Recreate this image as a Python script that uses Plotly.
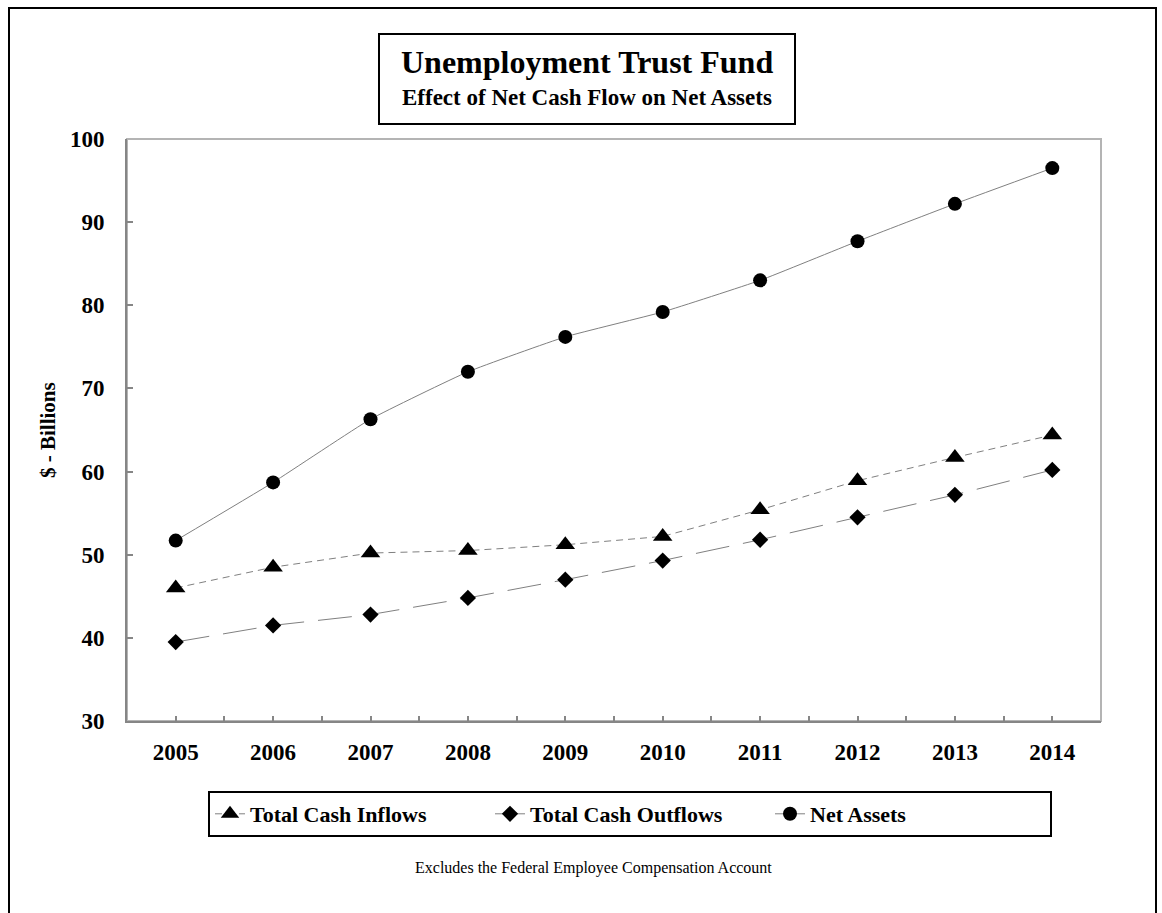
import plotly.graph_objects as go

# ---- data ----
years = [2005, 2006, 2007, 2008, 2009, 2010, 2011, 2012, 2013, 2014]
year_labels = [str(y) for y in years]
inflows = [46.0, 48.5, 50.2, 50.5, 51.2, 52.2, 55.4, 58.9, 61.7, 64.4]
outflows = [39.5, 41.5, 42.8, 44.8, 47.0, 49.3, 51.8, 54.5, 57.2, 60.2]
net_assets = [51.7, 58.7, 66.3, 72.0, 76.2, 79.2, 83.0, 87.7, 92.2, 96.5]
y_ticks = [30, 40, 50, 60, 70, 80, 90, 100]

# ---- layout geometry (pixels) ----
W, H = 1162, 913
L, R, T, B = 127, 1101, 139, 721
PW, PH = R - L, B - T


def px(x):
    return (x - L) / PW


def py(y):
    return (B - y) / PH


SERIF = "Liberation Serif"
LINE_GRAY = "#808080"
AXIS_GRAY = "#868686"

fig = go.Figure()
fig.add_trace(go.Scatter(
    x=years, y=inflows, name="Total Cash Inflows", mode="lines+markers",
    line=dict(color=LINE_GRAY, width=1, dash="7px,5px"),
    marker=dict(symbol="triangle-up", size=17, color="black"),
))
fig.add_trace(go.Scatter(
    x=years, y=outflows, name="Total Cash Outflows", mode="lines+markers",
    line=dict(color=LINE_GRAY, width=1, dash="34px,14px"),
    marker=dict(symbol="diamond", size=12.5, color="black"),
))
fig.add_trace(go.Scatter(
    x=years, y=net_assets, name="Net Assets", mode="lines+markers",
    line=dict(color=LINE_GRAY, width=1, shape="spline", smoothing=0.4),
    marker=dict(symbol="circle", size=14, color="black"),
))

tickfont = dict(family=SERIF, size=23, color="black", weight="bold")

fig.update_layout(
    width=W, height=H, autosize=False,
    margin=dict(l=L, r=W - R, t=T, b=H - B),
    paper_bgcolor="white", plot_bgcolor="white",
    showlegend=True,
    xaxis=dict(
        range=[years[0] - 0.5, years[-1] + 0.5],
        tickvals=years, ticktext=year_labels,
        ticks="inside", ticklen=5, tickwidth=2, tickcolor=AXIS_GRAY,
        minor=dict(ticks="inside", tick0=years[0] - 0.5, dtick=1,
                   ticklen=5, tickwidth=2, tickcolor=AXIS_GRAY, showgrid=False),
        showline=True, linecolor=AXIS_GRAY, linewidth=2,
        showgrid=False, zeroline=False,
        tickfont=tickfont, ticklabelstandoff=9,
    ),
    yaxis=dict(
        range=[y_ticks[0], y_ticks[-1]],
        tickvals=y_ticks,
        ticks="inside", ticklen=6, tickwidth=2, tickcolor=AXIS_GRAY,
        showline=True, linecolor=AXIS_GRAY, linewidth=2,
        showgrid=False, zeroline=False,
        tickfont=tickfont, ticklabelstandoff=16,
    ),
    legend=dict(
        orientation="h", x=px(630), xanchor="center", y=py(791), yanchor="top",
        bordercolor="black", borderwidth=2, bgcolor="white",
        font=dict(family=SERIF, size=22, color="black", weight="bold"),
        entrywidth=235, entrywidthmode="pixels", traceorder="normal",
    ),
    shapes=[
        # plot area frame
        dict(type="rect", xref="paper", yref="paper", x0=0, x1=1, y0=0, y1=1,
             line=dict(color="#b4b4b4", width=2), layer="below"),
        # outer chart border
        dict(type="rect", xref="paper", yref="paper", x0=px(9), x1=px(1156),
             y0=py(925), y1=py(8), line=dict(color="black", width=2)),
        # title box
        dict(type="rect", xref="paper", yref="paper", x0=px(379), x1=px(795),
             y0=py(124), y1=py(34), line=dict(color="black", width=2),
             fillcolor="white"),
    ],
    annotations=[
        dict(text="Unemployment Trust Fund", xref="paper", yref="paper",
             x=px(587), y=py(62), xanchor="center", yanchor="middle", showarrow=False,
             font=dict(family=SERIF, size=32, color="black", weight="bold")),
        dict(text="Effect of Net Cash Flow on Net Assets", xref="paper", yref="paper",
             x=px(587), y=py(97), xanchor="center", yanchor="middle", showarrow=False,
             font=dict(family=SERIF, size=23, color="black", weight="bold")),
        dict(text="$ - Billions", xref="paper", yref="paper", textangle=-90,
             x=px(48), y=0.5, xanchor="center", yanchor="middle", showarrow=False,
             font=dict(family=SERIF, size=21, color="black", weight="bold")),
        dict(text="Excludes the Federal Employee Compensation Account",
             xref="paper", yref="paper", x=px(593), y=py(868),
             xanchor="center", yanchor="middle", showarrow=False,
             font=dict(family=SERIF, size=16, color="black")),
    ],
)

fig.write_html("out.html")
